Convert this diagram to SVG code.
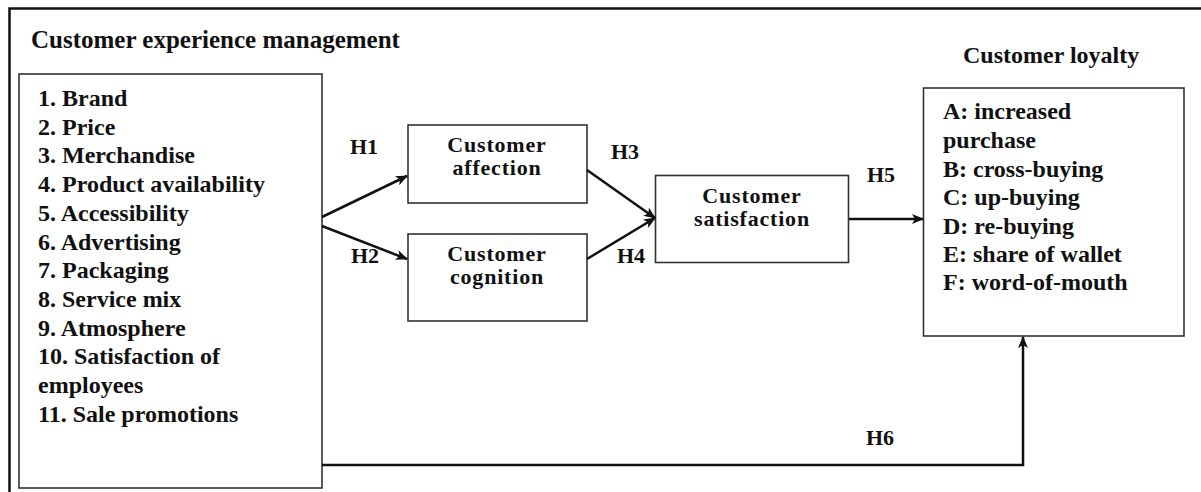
<svg xmlns="http://www.w3.org/2000/svg" width="1201" height="492" viewBox="0 0 1201 492">
<style>
.box{fill:#fff;stroke:#333;stroke-width:1.6}
.t{font-family:"Liberation Serif","Times New Roman",serif;font-weight:bold;font-size:24px;fill:#111}
.n{font-family:"Liberation Serif","Times New Roman",serif;font-weight:bold;font-size:22px;letter-spacing:0.8px;fill:#111;text-anchor:middle}
.lb{font-family:"Liberation Serif","Times New Roman",serif;font-weight:bold;font-size:22px;fill:#111}
.ed{fill:none;stroke:#111;stroke-width:2.5}
</style>
<defs>
<marker id="ah" viewBox="0 0 12 10" refX="11" refY="5" markerWidth="12" markerHeight="10" markerUnits="userSpaceOnUse" orient="auto">
<path d="M0,0 L12,5 L0,10 L3,5 z" fill="#111"/>
</marker>
</defs>
<rect width="1201" height="492" fill="#fff"/>
<path d="M9.5,492 L9.5,8.5 L1201,8.5" fill="none" stroke="#111" stroke-width="2.5"/>
<text class="t" x="31" y="48" style="font-size:25px">Customer experience management</text>
<text class="t" x="963" y="63">Customer loyalty</text>
<g id="cem">
<rect class="box" x="19" y="74" width="303" height="414"/>
<text class="t" x="38"><tspan x="38" y="106">1. Brand</tspan><tspan x="38" y="134.7">2. Price</tspan><tspan x="38" y="163.4">3. Merchandise</tspan><tspan x="38" y="192.1">4. Product availability</tspan><tspan x="38" y="220.8">5. Accessibility</tspan><tspan x="38" y="249.5">6. Advertising</tspan><tspan x="38" y="278.2">7. Packaging</tspan><tspan x="38" y="306.9">8. Service mix</tspan><tspan x="38" y="335.6">9. Atmosphere</tspan><tspan x="38" y="364.3">10. Satisfaction of</tspan><tspan x="38" y="393">employees</tspan><tspan x="38" y="421.7">11. Sale promotions</tspan></text>
</g>
<g id="affection">
<rect class="box" x="408" y="125" width="179" height="78"/>
<text class="n"><tspan x="497" y="152">Customer</tspan><tspan x="497" y="175">affection</tspan></text>
</g>
<g id="cognition">
<rect class="box" x="408" y="234" width="179" height="87"/>
<text class="n"><tspan x="497" y="261">Customer</tspan><tspan x="497" y="284">cognition</tspan></text>
</g>
<g id="satisfaction">
<rect class="box" x="655.5" y="175.5" width="193" height="87"/>
<text class="n"><tspan x="752" y="203">Customer</tspan><tspan x="752" y="226">satisfaction</tspan></text>
</g>
<g id="loyalty">
<rect class="box" x="923.5" y="88" width="260.5" height="248"/>
<text class="t"><tspan x="943" y="119">A: increased</tspan><tspan x="943" y="148">purchase</tspan><tspan x="943" y="176.5">B: cross-buying</tspan><tspan x="943" y="205">C: up-buying</tspan><tspan x="943" y="233.5">D: re-buying</tspan><tspan x="943" y="262">E: share of wallet</tspan><tspan x="943" y="290">F: word-of-mouth</tspan></text>
</g>
<g id="connectors">
<path class="ed" d="M322,217 L407,176" marker-end="url(#ah)"/>
<path class="ed" d="M322,226 L407,259" marker-end="url(#ah)"/>
<path class="ed" d="M587,170 L655,218" marker-end="url(#ah)"/>
<path class="ed" d="M587,259 L655,218" marker-end="url(#ah)"/>
<path class="ed" d="M849,219 L923,219" marker-end="url(#ah)"/>
<path class="ed" d="M322,465 L1023,465 L1023,337" marker-end="url(#ah)"/>
<text class="lb" x="350" y="154">H1</text>
<text class="lb" x="351" y="263">H2</text>
<text class="lb" x="611" y="159">H3</text>
<text class="lb" x="617" y="263">H4</text>
<text class="lb" x="867" y="182">H5</text>
<text class="lb" x="866" y="445">H6</text>
</g>
</svg>
